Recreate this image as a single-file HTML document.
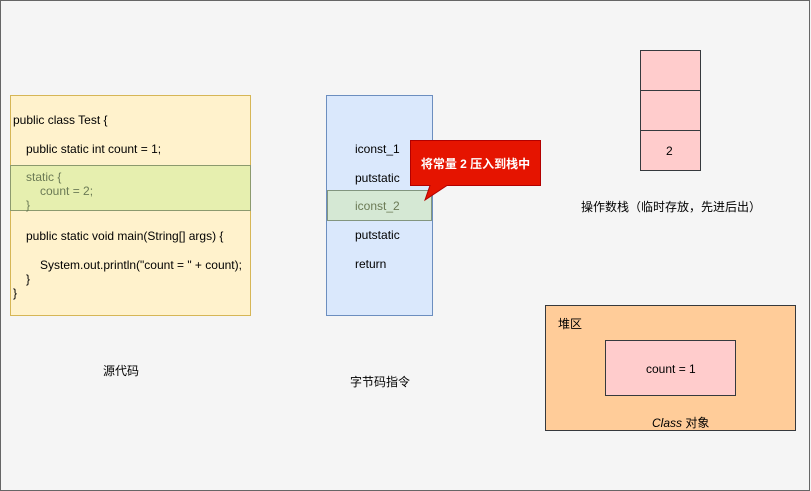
<!DOCTYPE html>
<html><head><meta charset="utf-8"><style>
body{margin:0;width:811px;height:491px;background:#f5f5f5;position:relative;overflow:hidden;font-family:"Liberation Sans","Noto Sans CJK SC",sans-serif;font-size:12px;color:#000}
.a{position:absolute;box-sizing:border-box}
.t{position:absolute;white-space:nowrap}
</style></head><body>
<div class="a" style="left:0;top:0;width:810px;height:491px;border:1px solid #666;"></div>
<!-- source -->
<div class="a" style="left:10px;top:95px;width:241px;height:221px;background:#fff2cc;border:1px solid #d6b656"></div>
<div class="a" style="left:10px;top:165px;width:241px;height:46px;background:#e6efaf;border:1px solid #8c9a6e"></div>
<div class="t" style="left:13px;top:113px">public class Test {</div>
<div class="t" style="left:26px;top:142px">public static int count = 1;</div>
<div class="t" style="left:26px;top:170px;color:#6b7a55">static {</div>
<div class="t" style="left:40px;top:184px;color:#6b7a55">count = 2;</div>
<div class="t" style="left:26px;top:198px;color:#6b7a55">}</div>
<div class="t" style="left:26px;top:229px">public static void main(String[] args) {</div>
<div class="t" style="left:40px;top:258px">System.out.println("count = " + count);</div>
<div class="t" style="left:26px;top:272px">}</div>
<div class="t" style="left:13px;top:286px">}</div>
<div class="t" style="left:103px;top:362px">源代码</div>
<!-- bytecode -->
<div class="a" style="left:326px;top:95px;width:107px;height:221px;background:#dae8fc;border:1px solid #6c8ebf"></div>
<div class="a" style="left:327px;top:190px;width:105px;height:31px;background:#d5e8d4;border:1px solid #82957f"></div>
<div class="t" style="left:355px;top:142px">iconst_1</div>
<div class="t" style="left:355px;top:171px">putstatic</div>
<div class="t" style="left:355px;top:199px;color:#6b7a55">iconst_2</div>
<div class="t" style="left:355px;top:228px">putstatic</div>
<div class="t" style="left:355px;top:257px">return</div>
<div class="t" style="left:350px;top:373px">字节码指令</div>
<svg class="a" style="left:0;top:0" width="811" height="491">
<path d="M410.5 140.5 H540.5 V185.5 H447 L425 200 L430 185.5 H410.5 Z" fill="#e51400" stroke="#b20000"/>
</svg>
<div class="t" style="left:410px;top:155px;width:131px;text-align:center;color:#fff;font-weight:bold">将常量 2 压入到栈中</div>
<!-- stack -->
<div class="a" style="left:640px;top:50px;width:61px;height:41px;background:#ffcccc;border:1px solid #36393d"></div>
<div class="a" style="left:640px;top:90px;width:61px;height:41px;background:#ffcccc;border:1px solid #36393d"></div>
<div class="a" style="left:640px;top:130px;width:61px;height:41px;background:#ffcccc;border:1px solid #36393d"></div>
<div class="t" style="left:666px;top:144px">2</div>
<div class="t" style="left:581px;top:198px">操作数栈（临时存放，先进后出）</div>
<!-- heap -->
<div class="a" style="left:545px;top:305px;width:251px;height:126px;background:#ffcc99;border:1px solid #36393d"></div>
<div class="t" style="left:558px;top:315px">堆区</div>
<div class="a" style="left:605px;top:340px;width:131px;height:56px;background:#ffcccc;border:1px solid #36393d"></div>
<div class="t" style="left:646px;top:362px">count = 1</div>
<div class="t" style="left:652px;top:414px"><i>Class</i> 对象</div>
</body></html>
